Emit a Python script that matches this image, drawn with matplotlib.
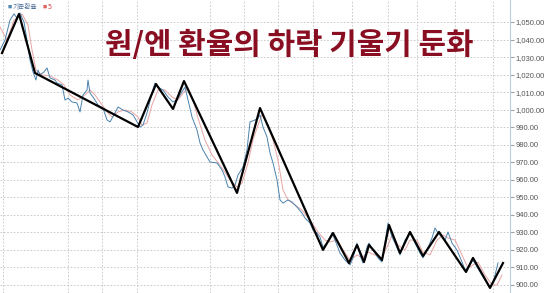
import matplotlib
matplotlib.use("Agg")
import matplotlib.pyplot as plt
from matplotlib.ticker import FuncFormatter

plt.rcParams['font.family'] = ['Noto Sans CJK KR', 'DejaVu Sans']

#%% data (trading-day index, won per 100 yen)

blue_t = [0, 2.5, 5, 7, 8.5, 10, 12, 13.5, 15, 16.5, 18, 19, 20, 22, 23.5, 25, 27.5,
          28.5, 31, 32.5, 34, 36, 38.5, 40, 41.5, 43.5, 44, 45, 46.5, 49, 51.5, 53.5,
          55, 57.5, 59, 61.5, 64, 66.5, 68.5, 70, 71.5, 73.5, 76, 77.5, 79, 81.5, 84,
          86.5, 88.5, 91, 92.5, 94, 96, 98.5, 100, 101.5, 103.5, 105, 108.5, 111,
          112.5, 114, 116, 117.5, 119, 121.5, 123.5, 125, 127.5, 129, 130, 131.5,
          133.5, 135, 136.5, 138.5, 140, 141.5, 144, 146, 148.5, 151, 152.5, 155,
          156.5, 158.5, 160, 161.5, 163.5, 166, 167.5, 170, 172.5, 175, 176.5, 178.5,
          180, 181.5, 183.5, 184.5, 186.5, 189, 191, 192.5, 194, 196, 197.5, 200,
          202.5, 205, 207.5, 210, 211.5, 213.5, 216, 217.5, 219, 221, 222.5, 224,
          226, 228.5, 231, 232.5, 235, 236.5, 238.5, 241, 243.5, 245, 246.5, 248.5, 249]
blue_v = [1034.0, 1039.7, 1051.1, 1054.6, 1052.3, 1055.1, 1050.0, 1039.7, 1028.3,
          1021.5, 1016.9, 1022.6, 1019.8, 1021.5, 1023.8, 1018.1, 1016.9, 1015.2,
          1014.1, 1005.5, 1006.6, 1004.4, 1003.8, 998.7, 1008.4, 1011.2, 1016.9,
          1009.5, 1007.2, 1002.7, 1000.9, 994.1, 993.0, 998.1, 1001.5, 999.8, 998.7,
          997.0, 993.0, 990.1, 991.2, 998.1, 1009.5, 1015.2, 1012.9, 1011.2, 1007.2,
          1004.4, 1005.5, 1010.1, 1012.9, 1005.5, 995.8, 988.4, 981.0, 977.0, 973.0,
          970.1, 969.6, 965.6, 961.6, 955.9, 955.3, 957.0, 962.7, 967.3, 977.0,
          993.0, 994.1, 995.2, 997.0, 990.1, 984.4, 975.3, 969.6, 959.9, 948.5,
          946.7, 948.5, 947.3, 944.4, 941.0, 938.2, 935.3, 931.3, 929.6, 927.3,
          921.6, 923.9, 929.6, 925.6, 918.2, 914.2, 911.4, 915.4, 923.9, 917.1,
          912.5, 921.6, 923.9, 919.9, 915.4, 913.1, 923.9, 935.3, 927.3, 923.9,
          917.1, 925.6, 929.6, 923.9, 918.2, 915.4, 919.9, 926.8, 932.5, 929.6,
          927.3, 925.6, 930.2, 923.9, 919.9, 913.1, 908.5, 911.4, 914.2, 910.2,
          905.7, 901.1, 898.3, 901.1, 910.2, 912.5]

ma5_t = [0, 3.5, 7, 11, 14, 16, 18, 21, 25, 29, 32, 35, 39, 42.5, 45, 47.5, 50, 53.5,
         56, 59, 62.5, 66, 69, 71, 73.5, 76, 79, 82.5, 86, 89, 92, 94, 96.5, 99,
         102.5, 106, 110, 115, 118.5, 121, 124, 126.5, 129, 131, 134, 136.5, 139,
         141.5, 144, 147.5, 151, 155, 159, 162.5, 165, 168.5, 171.5, 175, 178.5, 181,
         184, 187.5, 191, 194, 196, 199, 202.5, 205, 208.5, 211.5, 215, 218.5, 221.5,
         224, 227.5, 231, 234, 236.5, 239, 242.5, 246, 248.5, 251]
ma5_v = [1047.2, 1039.7, 1051.1, 1054.6, 1048.3, 1034.0, 1022.6, 1019.8, 1019.2,
         1016.9, 1014.1, 1008.4, 1005.5, 1008.4, 1011.2, 1008.4, 1004.4, 998.7,
         995.8, 998.7, 999.8, 998.7, 995.8, 991.2, 992.4, 1002.7, 1011.2, 1011.2,
         1007.2, 1005.5, 1010.1, 1012.4, 1005.5, 995.2, 982.7, 974.1, 968.4, 959.9,
         955.9, 958.1, 969.6, 982.7, 991.2, 997.0, 991.2, 982.7, 971.3, 954.2,
         948.5, 945.6, 942.7, 937.0, 930.2, 925.6, 924.5, 925.6, 919.9, 914.2,
         917.1, 915.4, 918.8, 917.1, 915.4, 922.8, 928.5, 922.8, 919.9, 925.6,
         925.6, 918.8, 917.1, 925.6, 928.5, 926.8, 925.6, 917.1, 909.6, 911.4,
         913.1, 905.7, 900.0, 900.0, 905.7]

# hand-drawn trend segments
trend_t = [1, 9.5, 17.5, 69, 78, 86.5, 92, 118.5, 130, 161.5, 166.5, 174.5, 178.5,
           182, 184.5, 191, 194.5, 200, 205, 211.5, 219.5, 233, 236.5, 245, 251.5]
trend_v = [1032.3, 1054.6, 1020.9, 990.1, 1014.6, 1000.4, 1016.3, 952.5, 1000.9,
           920.0, 929.6, 912.5, 922.8, 913.1, 922.8, 914.2, 934.2, 918.2, 930.2,
           916.5, 930.2, 907.4, 915.4, 898.3, 912.5]

month_ticks = [1.5, 34, 51, 68.5, 105, 122, 139, 156.5, 176, 194, 208.5, 227.5, 246.5]
price_ticks = list(range(900, 1051, 10))

title = "원/엔 환율의 하락 기울기 둔화"

#%% plot

fig = plt.figure(figsize=(5.45, 2.93), dpi=100)
ax = fig.add_axes([0.0, 0.0, 510 / 545, 1.0])

ax.plot(ma5_t, ma5_v, color='#e8a4a4', lw=0.7, zorder=2)
ax.plot(blue_t, blue_v, color='#4a82ad', lw=0.7, zorder=3)
ax.plot(trend_t, trend_v, color='black', lw=1.6, zorder=4)

ax.set_xlim(0, 255)
ax.set_ylim(895.4, 1062.55)

ax.set_xticks(month_ticks)
ax.set_yticks(price_ticks)
ax.tick_params(axis='x', length=0, labelbottom=False)
ax.yaxis.tick_right()
ax.tick_params(axis='y', length=3, color='#a0a0a0', pad=1, labelsize=5.5,
               labelcolor='#555555')
ax.yaxis.set_major_formatter(FuncFormatter(lambda v, p: f"{v:,.2f}"))
for lab in ax.get_yticklabels():
    lab.set_family('Liberation Sans')
ax.grid(True, color='#c4c4c4', linestyle=(0, (2, 2)), lw=0.6)

for s in ax.spines.values():
    s.set_visible(False)
ax.spines['right'].set_visible(True)
ax.spines['right'].set_color('#b9cde0')

# legend text top-left
fig.text(8 / 545, 1 - 7 / 293, "■", color='#4f88b3', fontsize=3, va='center')
fig.text(13 / 545, 1 - 7 / 293, "기준환율", color='#4f6f99', fontsize=4.8, va='center')
fig.text(43 / 545, 1 - 7 / 293, "■", color='#e06060', fontsize=3, va='center')
fig.text(48 / 545, 1 - 7 / 293, "5", color='#d04040', fontsize=5, va='center')

fig.text(289 / 545, 1 - 45 / 293, title, color='#8a0e22', fontsize=21.5,
         fontweight='bold', ha='center', va='center')

plt.savefig("out.png", dpi=100)
